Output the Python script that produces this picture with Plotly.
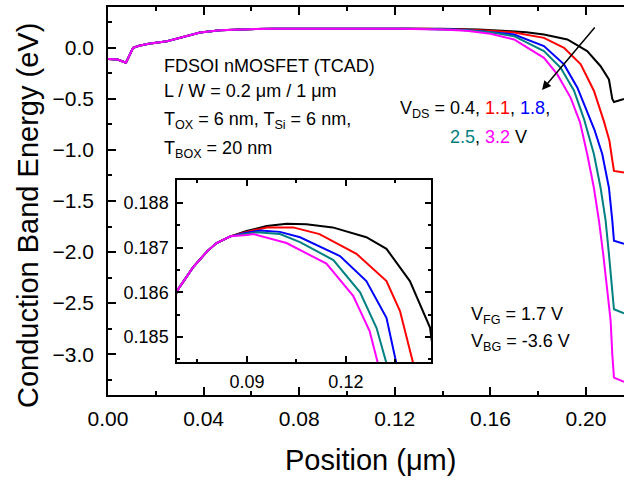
import plotly.graph_objects as go

# ---- data (position in um, conduction band energy in eV) ----
pos_common = [0, 0.004, 0.0075, 0.0105, 0.013, 0.017, 0.0247, 0.032, 0.0385, 0.0469, 0.055, 0.062,
              0.0688, 0.0737, 0.078, 0.0808, 0.085]
e_common = [-0.11, -0.115, -0.145, 0.0, 0.02, 0.04, 0.065, 0.11, 0.15, 0.172, 0.181, 0.1845,
            0.18603, 0.18656, 0.18692, 0.1871, 0.18725]

pos_v04 = [0.0899, 0.096, 0.102, 0.108, 0.116, 0.1262, 0.1323, 0.1394, 0.1455, 0.155, 0.165, 0.175,
           0.1824, 0.1922, 0.2005, 0.2061, 0.2096, 0.211, 0.2117, 0.2135, 0.2159]
e_v04 = [0.18737, 0.18748, 0.18753, 0.18752, 0.18745, 0.18723, 0.18697, 0.18625, 0.18521, 0.180, 0.168,
         0.152, 0.131, 0.082, -0.032, -0.18, -0.31, -0.50, -0.53, -0.52, -0.50]

pos_v11 = [0.0899, 0.096, 0.104, 0.112, 0.1232, 0.1323, 0.1364, 0.1404, 0.150, 0.160, 0.1699, 0.1824,
           0.1908, 0.1978, 0.2033, 0.2075, 0.2098, 0.2110, 0.2117, 0.2159]
e_v11 = [0.18735, 0.18745, 0.18745, 0.1873, 0.18686, 0.18625, 0.18558, 0.18441, 0.177, 0.167, 0.150,
         0.098, 0.0, -0.162, -0.42, -0.72, -0.91, -1.10, -1.205, -1.22]

pos_v18 = [0.0899, 0.094, 0.100, 0.1061, 0.1182, 0.1262, 0.1323, 0.1353, 0.145, 0.155, 0.1699, 0.1824,
           0.1908, 0.1964, 0.2005, 0.2035, 0.2068, 0.2096, 0.2110, 0.2117, 0.2159]
e_v18 = [0.18733, 0.18738, 0.18735, 0.18723, 0.18681, 0.18625, 0.18543, 0.18441, 0.179, 0.166, 0.131,
         0.017, -0.162, -0.39, -0.62, -0.80, -1.04, -1.37, -1.69, -1.89, -1.92]

pos_v25 = [0.0899, 0.093, 0.100, 0.1061, 0.1162, 0.1243, 0.1293, 0.1323, 0.140, 0.150, 0.160, 0.1699,
           0.1824, 0.1894, 0.1950, 0.1992, 0.2033, 0.2061, 0.2082, 0.2096, 0.2107, 0.2117, 0.2159]
e_v25 = [0.18731, 0.18734, 0.18730, 0.18712, 0.18672, 0.18600, 0.18520, 0.18441, 0.181, 0.172, 0.152,
         0.114, -0.032, -0.195, -0.42, -0.70, -1.04, -1.37, -1.69, -2.02, -2.35, -2.56, -2.60]

pos_v32 = [0.0899, 0.092, 0.102, 0.1141, 0.1222, 0.1272, 0.1297, 0.140, 0.150, 0.160, 0.1699, 0.1824,
           0.188, 0.1936, 0.1975, 0.2005, 0.2033, 0.2054, 0.2072, 0.2089, 0.2103, 0.2110, 0.2117, 0.2159]
e_v32 = [0.18728, 0.1873, 0.18710, 0.18664, 0.18592, 0.18513, 0.18441, 0.179, 0.167, 0.138, 0.082,
         -0.098, -0.26, -0.49, -0.73, -1.04, -1.37, -1.69, -2.02, -2.35, -2.67, -3.0, -3.23, -3.27]

series_names = ["VDS = 0.4 V", "VDS = 1.1 V", "VDS = 1.8 V", "VDS = 2.5 V", "VDS = 3.2 V"]
series_pos = [pos_v04, pos_v11, pos_v18, pos_v25, pos_v32]
series_e = [e_v04, e_v11, e_v18, e_v25, e_v32]
colors = ["#000000", "#ff0000", "#0000ff", "#008080", "#ff00ff"]

main_xticks = [0.00, 0.04, 0.08, 0.12, 0.16, 0.20]
main_yticks = [0.0, -0.5, -1.0, -1.5, -2.0, -2.5, -3.0]
inset_xticks = [0.09, 0.12]
inset_yticks = [0.185, 0.186, 0.187, 0.188]

FONT = "Liberation Sans, Arial, sans-serif"
W, H = 624, 480
L, R, T, B = 108, 624, 7, 395


def px(x):
    return (x - L) / (R - L)


def py(y):
    return (B - y) / (B - T)


fig = go.Figure()
for name, xs, es, c in zip(series_names, series_pos, series_e, colors):
    x = pos_common + xs
    y = e_common + es
    fig.add_trace(go.Scatter(x=x, y=y, mode="lines", name=name,
                             line=dict(color=c, width=2), xaxis="x", yaxis="y"))
for name, xs, es, c in zip(series_names, series_pos, series_e, colors):
    x = pos_common + xs
    y = e_common + es
    fig.add_trace(go.Scatter(x=x, y=y, mode="lines", name=name, showlegend=False,
                             line=dict(color=c, width=2), xaxis="x2", yaxis="y2"))

axis_common = dict(showline=True, linecolor="black", linewidth=1.5, showgrid=False, zeroline=False,
                   ticks="inside", tickcolor="black", tickwidth=1.5)

fig.update_layout(
    width=W, height=H,
    margin=dict(l=L, r=W - R, t=T, b=H - B),
    paper_bgcolor="white", plot_bgcolor="white",
    showlegend=False,
    font=dict(family=FONT, color="black"),
    xaxis=dict(axis_common, domain=[0, 1], range=[0, 0.2159], tickvals=main_xticks,
               tickformat=".2f", ticklen=8, mirror="allticks",
               minor=dict(dtick=0.02, tick0=0, ticklen=4, ticks="inside", tickcolor="black", tickwidth=1.5),
               tickfont=dict(size=21, family=FONT), ticklabelstandoff=4),
    yaxis=dict(axis_common, domain=[0, 1], range=[-3.40, 0.40], tickvals=main_yticks,
               tickformat=".1f", ticklen=8, mirror=False,
               minor=dict(dtick=0.25, tick0=0, ticklen=4, ticks="inside", tickcolor="black", tickwidth=1.5),
               tickfont=dict(size=21, family=FONT), ticklabelstandoff=8),
    xaxis2=dict(axis_common, domain=[px(177), px(431)], anchor="y2", range=[0.0688, 0.1458],
                tickvals=inset_xticks, tickformat=".2f", ticklen=6, mirror="allticks",
                minor=dict(dtick=0.015, tick0=0.075, ticklen=3, ticks="inside", tickcolor="black", tickwidth=1.5),
                tickfont=dict(size=18, family=FONT), ticklabelstandoff=3),
    yaxis2=dict(axis_common, domain=[py(362), py(180)], anchor="x2", range=[0.18444, 0.18851],
                tickvals=inset_yticks, tickformat=".3f", ticklen=6, mirror="allticks",
                minor=dict(dtick=0.0005, tick0=0.1845, ticklen=3, ticks="inside", tickcolor="black", tickwidth=1.5),
                tickfont=dict(size=18, family=FONT), ticklabelstandoff=3),
)

ann = []


def text(x, y, s, size=18, xanchor="left", angle=0):
    ann.append(dict(xref="paper", yref="paper", x=px(x), y=py(y), text=s, showarrow=False,
                    xanchor=xanchor, yanchor="middle", textangle=angle,
                    font=dict(size=size, family=FONT, color="black")))


text(162, 66, "FDSOI nMOSFET (TCAD)")
text(162, 91, "L / W = 0.2 \u03bcm / 1 \u03bcm")
text(162, 121, "T<sub>OX</sub> = 6 nm, T<sub>Si</sub> = 6 nm,")
text(162, 149, "T<sub>BOX</sub> = 20 nm")
text(398, 110, "V<sub>DS</sub> = 0.4, <span style='color:#ff0000'>1.1</span>, "
               "<span style='color:#0000ff'>1.8</span>,")
text(448, 137, "<span style='color:#008080'>2.5</span>, <span style='color:#ff00ff'>3.2</span> V")
text(469, 315, "V<sub>FG</sub> = 1.7 V")
text(469, 342, "V<sub>BG</sub> = -3.6 V")
text(370, 460, "Position (\u03bcm)", size=29, xanchor="center")
text(28, 216, "Conduction Band Energy (eV)", size=29, xanchor="center", angle=-90)

ann.append(dict(xref="paper", yref="paper", x=px(542), y=py(90), ax=596 - 542, ay=26 - 90,
                axref="pixel", ayref="pixel", text="", showarrow=True, arrowhead=2,
                arrowsize=1.2, arrowwidth=1.5, arrowcolor="black", standoff=0))
fig.update_layout(annotations=ann)

fig.write_html("out.html", config={"displayModeBar": False},
               post_script="document.body.style.margin='0px';")
